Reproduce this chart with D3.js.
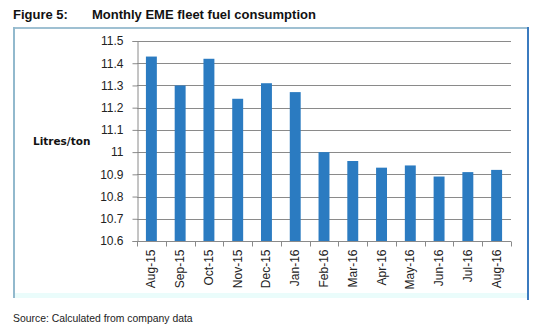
<!DOCTYPE html>
<html><head><meta charset="utf-8">
<script src="https://cdn.jsdelivr.net/npm/d3@7"></script>
<style>body{margin:0;background:#fff}svg{display:block}</style>
</head><body>
<svg id="c" width="543" height="329"></svg>
<script>
const categories = ["Aug-15","Sep-15","Oct-15","Nov-15","Dec-15","Jan-16","Feb-16","Mar-16","Apr-16","May-16","Jun-16","Jul-16","Aug-16"];
const values = [11.43,11.30,11.42,11.24,11.31,11.27,11.00,10.96,10.93,10.94,10.89,10.91,10.92];
const yTicks = [10.6,10.7,10.8,10.9,11,11.1,11.2,11.3,11.4,11.5];
const titleLabel = "Figure 5:";
const titleText = "Monthly EME fleet fuel consumption";
const yLabel = "Litres/ton";
const sourceText = "Source: Calculated from company data";

const svg = d3.select("#c");
const m = {l:137, r:511, t:41, b:241};

// frame
svg.append("rect").attr("x",14).attr("y",28).attr("width",514).attr("height",269).attr("fill","#fff");
svg.append("line").attr("x1",13).attr("x2",529).attr("y1",28).attr("y2",28).attr("stroke","#9fc0d2").attr("stroke-width",2);
svg.append("line").attr("x1",14).attr("x2",14).attr("y1",27).attr("y2",298).attr("stroke","#92b9cd").attr("stroke-width",2);
svg.append("line").attr("x1",528).attr("x2",528).attr("y1",27).attr("y2",300).attr("stroke","#3b7bbf").attr("stroke-width",2);
svg.append("rect").attr("x",15).attr("y",293).attr("width",512).attr("height",5).attr("fill","#eafcfb");

const x = d3.scaleBand().domain(categories).range([m.l,m.r]).paddingInner(0.62).paddingOuter(0.31);
const y = d3.scaleLinear().domain([10.6,11.5]).range([m.b,m.t]);

// gridlines
svg.append("g").selectAll("line").data(yTicks.slice(1)).join("line")
  .attr("x1",m.l).attr("x2",m.r).attr("y1",d=>Math.round(y(d))+0.5).attr("y2",d=>Math.round(y(d))+0.5)
  .attr("stroke","#8a8a8a").attr("stroke-width",1);

// bars
svg.append("g").selectAll("rect").data(values).join("rect")
  .attr("x",(d,i)=>x(categories[i])).attr("width",x.bandwidth())
  .attr("y",d=>y(d)).attr("height",d=>y(10.6)-y(d)).attr("fill","#2b7bc1");

// y axis
const ya = svg.append("g").attr("transform",`translate(${m.l+0.5},0)`)
  .call(d3.axisLeft(y).tickValues(yTicks).tickFormat(d=>String(+d.toFixed(1))).tickSizeOuter(0).tickSize(5).tickPadding(9));
ya.select(".domain").attr("stroke","#8a8a8a");
ya.selectAll(".tick line").attr("stroke","#8a8a8a");
ya.selectAll("text").attr("font-family","Liberation Sans, Arial, sans-serif").attr("font-size",12).attr("fill","#222");

// x axis
const step = x.step(), gap = step - x.bandwidth();
const xa = svg.append("g").attr("transform",`translate(0,${m.b+0.5})`);
xa.append("line").attr("x1",m.l).attr("x2",m.r).attr("stroke","#8a8a8a");
const bounds = categories.map(c=>x(c)-gap/2).concat([x(categories[categories.length-1])+x.bandwidth()+gap/2]);
xa.selectAll("line.tk").data(bounds).join("line").attr("class","tk")
  .attr("x1",d=>Math.round(d)+0.5).attr("x2",d=>Math.round(d)+0.5).attr("y1",0).attr("y2",5).attr("stroke","#8a8a8a");
xa.selectAll("text").data(categories).join("text")
  .attr("transform",d=>`translate(${x(d)+x.bandwidth()/2+4},8) rotate(-90)`)
  .attr("text-anchor","end").attr("font-family","Liberation Sans, Arial, sans-serif").attr("font-size",12).attr("fill","#222")
  .text(d=>d);

// y label
svg.append("text").attr("x",33).attr("y",145).attr("font-family","DejaVu Sans, Verdana, sans-serif")
  .attr("font-weight","bold").attr("font-size",10.5).attr("fill","#111").text(yLabel);

// title
svg.append("text").attr("x",13).attr("y",19).attr("font-family","Liberation Sans, Arial, sans-serif")
  .attr("font-weight","bold").attr("font-size",13).attr("fill","#111").text(titleLabel);
svg.append("text").attr("x",92).attr("y",19).attr("font-family","Liberation Sans, Arial, sans-serif")
  .attr("font-weight","bold").attr("font-size",13).attr("fill","#111").text(titleText);

// source
svg.append("text").attr("x",13).attr("y",322).attr("font-family","Liberation Sans, Arial, sans-serif")
  .attr("font-size",10.4).attr("fill","#222").text(sourceText);
</script>
</body></html>
